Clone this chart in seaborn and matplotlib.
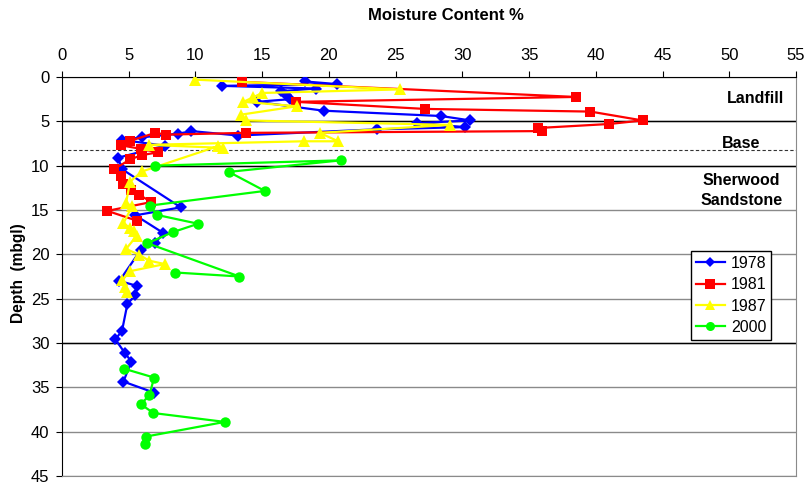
import matplotlib.pyplot as plt
from matplotlib.lines import Line2D
import pandas as pd
import seaborn as sns

years = ["1978", "1981", "1987", "2000"]
colors = ["#0000FF", "#FF0000", "#FFFF00", "#00FF00"]
markers = ["D", "s", "^", "o"]

moist_1978 = [18.2, 20.6, 12.0, 19.0, 16.4, 16.8, 17.1, 14.6, 19.6, 28.4, 30.6, 26.6, 30.2, 23.6,
              13.2, 9.7, 8.7, 6.0, 4.5, 7.7, 4.2, 4.5, 8.9, 5.5, 7.6, 7.0, 5.9, 4.3, 5.6, 5.5,
              4.9, 4.5, 4.0, 4.7, 5.2, 4.6, 6.9]
depth_1978 = [0.5, 0.8, 1.0, 1.3, 1.6, 2.0, 2.5, 2.8, 3.8, 4.4, 4.9, 5.2, 5.65, 5.9,
              6.6, 6.1, 6.4, 6.8, 7.1, 7.75, 9.1, 10.4, 14.7, 15.6, 17.6, 18.7, 19.5, 23.0, 23.55, 24.6,
              25.6, 28.6, 29.6, 31.1, 32.1, 34.35, 35.6]

moist_1981 = [13.5, 38.5, 17.5, 27.2, 39.6, 43.5, 41.0, 35.7, 36.0, 13.8, 7.8, 7.0, 5.1, 4.4,
              5.9, 7.2, 6.0, 5.1, 3.9, 4.4, 4.6, 5.2, 5.8, 6.7, 3.4, 5.6]
depth_1981 = [0.55, 2.25, 2.8, 3.6, 3.9, 4.9, 5.3, 5.75, 6.1, 6.3, 6.5, 6.3, 7.2, 7.7,
              8.1, 8.5, 8.8, 9.3, 10.4, 11.2, 12.1, 12.7, 13.3, 14.1, 15.1, 16.2]

moist_1987 = [10.0, 25.3, 15.0, 14.3, 13.6, 17.6, 13.4, 13.8, 29.1, 19.3, 20.7, 18.1, 6.5, 12.1,
              11.7, 6.0, 5.1, 4.8, 5.25, 4.6, 5.1, 5.4, 5.6, 4.8, 5.8, 6.5, 7.7, 5.1, 4.5, 4.7, 4.85]
depth_1987 = [0.3, 1.4, 1.8, 2.3, 2.8, 3.3, 4.25, 4.9, 5.4, 6.3, 7.25, 7.25, 7.65, 8.0,
              7.8, 10.65, 11.8, 14.2, 14.6, 16.5, 17.0, 17.4, 17.9, 19.4, 20.05, 20.7, 21.1, 21.9,
              22.95, 23.7, 24.3]

# 2000 has a gap between ~22 m and ~33 m
moist_2000_top = [7.0, 20.9, 12.5, 15.2, 6.6, 7.1, 10.2, 8.3, 6.4, 13.3, 8.5]
depth_2000_top = [10.0, 9.4, 10.7, 12.85, 14.5, 15.55, 16.55, 17.5, 18.75, 22.5, 22.05]
moist_2000_low = [4.65, 6.9, 6.55, 5.9, 6.85, 12.2, 6.3, 6.2]
depth_2000_low = [32.9, 33.9, 35.9, 36.9, 37.9, 38.9, 40.55, 41.4]

parts = [
    ("1978", "a", moist_1978, depth_1978),
    ("1981", "b", moist_1981, depth_1981),
    ("1987", "c", moist_1987, depth_1987),
    ("2000", "d", moist_2000_top, depth_2000_top),
    ("2000", "e", moist_2000_low, depth_2000_low),
]
df = pd.concat(
    [pd.DataFrame({"year": y, "seg": s, "moisture": m, "depth": d}) for y, s, m, d in parts],
    ignore_index=True,
)

plt.rcParams["font.family"] = ["Liberation Sans", "DejaVu Sans"]

fig = plt.figure(figsize=(8.09, 4.88), dpi=100)
ax = fig.add_axes([62 / 809, 12 / 488, 734 / 809, 399 / 488])

sns.lineplot(
    data=df, x="moisture", y="depth", hue="year", style="year", units="seg",
    estimator=None, sort=False, palette=dict(zip(years, colors)),
    markers=dict(zip(years, markers)), dashes=False, linewidth=1.6,
    markeredgewidth=0, legend=False, ax=ax, zorder=3,
)
msize = {"D": 6.5, "s": 7.5, "^": 8, "o": 7.5}
for ln in ax.lines:
    if ln.get_marker() in msize:
        ln.set_markersize(msize[ln.get_marker()])

ax.set_xlim(0, 55)
ax.set_ylim(45, 0)
ax.set_xticks(range(0, 60, 5))
ax.set_yticks(range(0, 50, 5))
ax.xaxis.tick_top()
ax.tick_params(axis="x", top=True, bottom=False, labeltop=True, labelbottom=False,
               length=4, pad=6, labelsize=12)
ax.tick_params(axis="y", length=4, pad=5, labelsize=12)
ax.set_xlabel("")
ax.set_ylabel("")

ax.set_axisbelow(True)
ax.yaxis.grid(True, color="#8a8a8a", linewidth=1)
for d in [5, 10, 30]:
    ax.axhline(d, color="black", linewidth=1, zorder=1)
ax.axhline(8.2, color="#333333", linewidth=0.8, linestyle=(0, (3, 2)), zorder=1)

for side in ["top", "left"]:
    ax.spines[side].set_color("black")
for side in ["right", "bottom"]:
    ax.spines[side].set_color("#8a8a8a")

ax.text(52.0, 2.4, "Landfill", fontsize=11.5, fontweight="bold", ha="center", va="center")
ax.text(50.9, 7.45, "Base", fontsize=11.5, fontweight="bold", ha="center", va="center")
ax.text(50.9, 12.8, "Sherwood\nSandstone", fontsize=11.5, fontweight="bold",
        ha="center", va="center", linespacing=1.35)

handles = [
    Line2D([], [], color=c, marker=m, markersize=msize[m] - 1, markeredgewidth=0, linewidth=1.6)
    for c, m in zip(colors, markers)
]
ax.legend(handles, years, loc="upper left", bbox_to_anchor=(0.857, 0.564), borderaxespad=0,
          fancybox=False, framealpha=1, edgecolor="black", fontsize=11.5,
          handlelength=1.8, handletextpad=0.4, labelspacing=0.4, borderpad=0.3)

fig.text(446 / 809, 0.969, "Moisture Content %", fontsize=12, fontweight="bold",
         ha="center", va="center")
fig.text(19 / 809, 0.44, "Depth  (mbgl)", fontsize=11.2, fontweight="bold",
         rotation=90, ha="center", va="center")

fig.savefig("out.png", dpi=100)
